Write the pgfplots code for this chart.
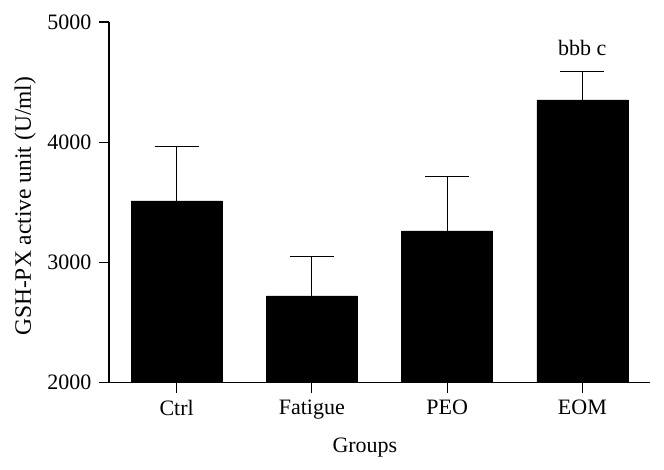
\documentclass[border=0pt]{standalone}
\usepackage{pgfplots}
\pgfplotsset{compat=1.18}
\usepackage{fontspec}
\setmainfont{Liberation Serif}
\begin{document}
\fontsize{22bp}{26bp}\selectfont
\begin{tikzpicture}
\begin{axis}[
  at={(0,0)}, anchor=south west,
  scale only axis, width=541bp, height=360.7bp,
  xmin=-0.5, xmax=3.5, ymin=2000, ymax=5000,
  axis lines=left,
  axis line style={-, line width=1.2bp, black},
  xtick={0,1,2,3},
  xticklabels={Ctrl,Fatigue,PEO,EOM},
  ytick={2000,3000,4000,5000},
  tick align=outside,
  major tick length=10bp,
  tick style={line width=1.2bp, black},
  /pgf/number format/assume math mode=true,
  /pgf/number format/1000 sep={},
  tick label style={font=\fontsize{22bp}{26bp}\selectfont},
  label style={font=\fontsize{22bp}{26bp}\selectfont},
  xlabel={Groups},
  ylabel={GSH-PX active unit (U/ml)},
  xlabel style={at={(axis description cs:0.473,0)}, anchor=base, yshift=-69.3bp},
  ylabel style={at={(axis description cs:-0.155,0.489)}, anchor=center, font=\fontsize{23.5bp}{27bp}\selectfont},
  ybar, bar width=0.672,
]
\addplot[fill=black, draw=black,
  error bars/.cd, y dir=plus, y explicit,
  error bar style={line width=1.2bp, black},
  error mark options={rotate=90, mark size=22bp, line width=1.2bp, black}]
  coordinates {(0,3512) +- (0,450) (1,2722) +- (0,330) (2,3263) +- (0,449) (3,4353) +- (0,233)};
\node[anchor=base, font=\fontsize{22bp}{26bp}\selectfont] at (axis cs:3,4725) {bbb c};
\end{axis}
\pgfresetboundingbox
\useasboundingbox (-109bp,-87.3bp) rectangle (555bp,382.7bp);
\end{tikzpicture}
\end{document}
